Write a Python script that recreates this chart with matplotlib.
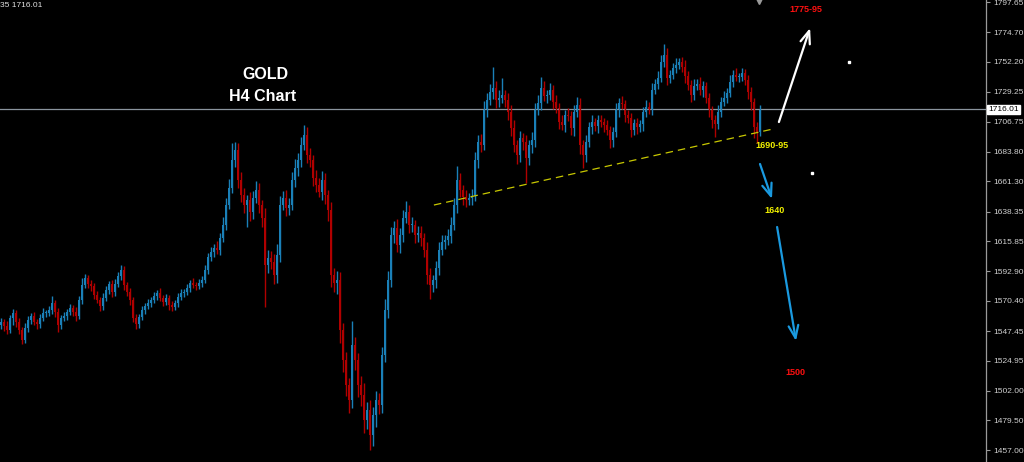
import matplotlib
matplotlib.use("Agg")
import matplotlib.pyplot as plt
import matplotlib.transforms as mtransforms
import numpy as np

# ---------------- data ----------------
closes = [
    1554.3, 1551.3, 1548.3, 1557.4, 1561.2, 1554.3, 1548.3, 1540.7, 1549.8, 1555.9,
    1558.9, 1554.3, 1552.8, 1557.4, 1561.2, 1561.2, 1563.5, 1568.8, 1562.0, 1552.1,
    1557.4, 1558.9, 1562.0, 1565.0, 1562.0, 1558.9, 1571.1, 1582.5, 1587.8, 1583.2,
    1581.7, 1574.9, 1571.1, 1566.5, 1572.6, 1578.7, 1583.2, 1577.2, 1583.2, 1589.3,
    1593.9, 1582.5, 1577.2, 1571.1, 1557.4, 1552.8, 1558.2, 1563.5, 1566.5, 1568.8,
    1571.1, 1574.1, 1576.4, 1572.6, 1569.6, 1572.6, 1567.3, 1565.8, 1568.8, 1573.4,
    1576.4, 1577.2, 1580.2, 1584.0, 1582.5, 1581.7, 1584.0, 1586.3, 1593.9, 1603.8,
    1607.6, 1610.6, 1609.1, 1618.2, 1628.1, 1643.3, 1656.2, 1677.5, 1685.1, 1662.3,
    1650.9, 1643.3, 1647.1, 1638.0, 1648.6, 1654.7, 1643.3, 1633.4, 1597.7, 1603.0,
    1600.0, 1590.1, 1605.3, 1643.3, 1648.6, 1641.0, 1643.3, 1662.3, 1671.5, 1677.5,
    1688.9, 1696.5, 1681.3, 1677.5, 1663.8, 1658.5, 1653.2, 1662.3, 1650.9, 1639.5,
    1590.1, 1584.0, 1586.3, 1548.3, 1525.5, 1506.4, 1495.0, 1536.9, 1525.5, 1506.4,
    1498.8, 1479.8, 1487.4, 1468.4, 1483.6, 1495.0, 1491.2, 1529.3, 1563.5, 1586.3,
    1620.5, 1625.8, 1612.9, 1620.5, 1633.4, 1638.0, 1628.1, 1628.1, 1620.5, 1622.0,
    1618.2, 1609.1, 1590.1, 1582.5, 1586.3, 1595.4, 1609.1, 1615.2, 1616.7, 1619.7,
    1628.1, 1643.3, 1662.3, 1654.7, 1649.4, 1647.1, 1648.6, 1650.2, 1677.5, 1691.2,
    1688.9, 1715.6, 1723.2, 1729.2, 1732.3, 1723.2, 1724.7, 1727.0, 1723.2, 1714.0,
    1701.9, 1688.9, 1681.3, 1694.3, 1691.2, 1679.1, 1688.9, 1692.7, 1715.6, 1720.9,
    1732.3, 1726.2, 1727.0, 1730.8, 1721.6, 1717.1, 1706.4, 1704.1, 1711.8, 1711.0,
    1701.9, 1714.0, 1719.4, 1688.9, 1681.3, 1691.2, 1702.6, 1706.4, 1703.4, 1708.0,
    1706.4, 1704.1, 1700.3, 1692.7, 1698.8, 1715.6, 1720.9, 1720.1, 1711.8, 1709.5,
    1700.3, 1705.7, 1702.6, 1704.9, 1714.0, 1717.8, 1715.6, 1730.8, 1735.3, 1739.9,
    1752.1, 1757.4, 1739.9, 1742.2, 1747.5, 1749.8, 1752.1, 1748.3, 1741.4, 1734.6,
    1727.0, 1733.8, 1735.3, 1730.8, 1733.8, 1724.7, 1715.6, 1708.0, 1704.9, 1714.0,
    1721.6, 1724.7, 1728.5, 1736.8, 1742.2, 1740.6, 1740.6, 1743.7, 1738.4, 1729.2,
    1721.6, 1702.6, 1698.8, 1716.01,
]
first_open = 1552.0

wick_up = [
    3, 2, 4, 2, 3, 2, 3, 2, 4, 3,   2, 3, 2, 3, 4, 2, 3, 5, 2, 3,
    2, 3, 2, 3, 2, 4, 3, 5, 3, 2,   3, 2, 3, 2, 4, 3, 2, 3, 4, 3,
    4, 3, 2, 3, 2, 3, 2, 3, 2, 3,   2, 3, 2, 4, 2, 3, 2, 3, 2, 3,
    3, 2, 3, 2, 4, 2, 3, 3, 4, 3,   4, 3, 5, 4, 6, 5, 7, 13, 6, 5,
    6, 5, 4, 6, 5, 7, 5, 4, 8, 6,   5, 6, 8, 7, 5, 6, 5, 6, 7, 5,
    6, 8, 6, 5, 4, 6, 5, 7, 5, 4,   6, 5, 7, 6, 5, 6, 5, 18, 6, 5,
    7, 9, 6, 8, 6, 7, 5, 6, 8, 7,   6, 5, 7, 5, 6, 8, 5, 6, 4, 5,
    5, 4, 6, 5, 4, 5, 6, 5, 4, 5,   6, 5, 11, 5, 4, 5, 4, 5, 6, 5,
    6, 7, 5, 6, 16, 5, 6, 13, 4, 5,  5, 6, 4, 5, 4, 5, 4, 6, 5, 6,
    8, 5, 4, 5, 4, 5, 4, 5, 4, 5,   4, 5, 6, 5, 4, 5, 4, 5, 3, 4,
    4, 3, 4, 3, 4, 5, 4, 5, 3, 4,   4, 3, 4, 3, 4, 5, 4, 5, 4, 5,
    5, 8, 5, 4, 4, 5, 3, 4, 5, 4,   4, 5, 4, 5, 4, 3, 4, 3, 4, 5,
    4, 5, 4, 5, 4, 5, 3, 4, 3, 4,   4, 3, 4, 3,
]
wick_dn = [
    3, 4, 3, 2, 5, 4, 3, 3, 2, 3,   3, 2, 4, 3, 2, 3, 2, 3, 4, 5,
    3, 2, 3, 2, 3, 4, 2, 3, 2, 3,   4, 3, 2, 4, 3, 2, 3, 4, 3, 2,
    3, 4, 3, 4, 3, 4, 3, 2, 3, 2,   3, 2, 3, 2, 3, 2, 4, 3, 2, 3,
    2, 3, 2, 3, 2, 3, 2, 3, 2, 3,   3, 4, 3, 4, 3, 4, 3, 4, 5, 6,
    5, 6, 17, 7, 5, 4, 6, 7, 32, 6,  5, 7, 6, 5, 4, 6, 5, 4, 5, 6,
    5, 4, 6, 5, 6, 5, 4, 6, 7, 8,   9, 7, 8, 10, 9, 8, 10, 6, 8, 9,
    8, 10, 7, 11, 8, 9, 7, 6, 5, 6,  5, 6, 5, 6, 5, 4, 6, 5, 6, 5,
    6, 5, 7, 11, 5, 6, 5, 4, 5, 4,  5, 4, 6, 5, 6, 5, 4, 5, 4, 6,
    5, 4, 5, 4, 5, 6, 5, 4, 5, 6,   6, 5, 7, 5, 6, 19, 5, 6, 5, 4,
    5, 4, 5, 4, 5, 4, 5, 4, 5, 4,   5, 6, 4, 7, 10, 5, 4, 5, 4, 5,
    4, 5, 4, 6, 5, 4, 5, 4, 5, 4,   5, 4, 5, 4, 5, 4, 3, 4, 3, 4,
    3, 4, 5, 4, 3, 4, 3, 4, 5, 4,   5, 4, 3, 4, 5, 4, 5, 6, 10, 4,
    4, 3, 4, 3, 4, 3, 4, 3, 4, 5,   6, 8, 8, 3,
]

ytick_values = [1797.65, 1774.70, 1752.20, 1729.25, 1706.75, 1683.80, 1661.30,
                1638.35, 1615.85, 1592.90, 1570.40, 1547.45, 1524.95, 1502.00,
                1479.50, 1457.00]
ytick_labels = ["1797.65", "1774.70", "1752.20", "1729.25", "1706.75", "1683.80",
                "1661.30", "1638.35", "1615.85", "1592.90", "1570.40", "1547.45",
                "1524.95", "1502.00", "1479.50", "1457.00"]
last_price = 1716.01
header_text = "35 1716.01"

# annotations (bar index, price)
trend_start = (144.3, 1643.3)
trend_end = (257.3, 1701.1)
up_arrow = ((259.3, 1706.4), (269.7, 1777.9))
down_arrow1 = ((253.0, 1674.5), (257.0, 1647.9))
down_arrow2 = ((258.7, 1626.6), (265.0, 1539.9))
labels = [
    ("1775-95", 268.3, 1791.6, "#ff1010"),
    ("1690-95", 257.0, 1688.2, "#f0f000"),
    ("1640", 258.0, 1639.5, "#f0f000"),
    ("1500", 264.7, 1515.6, "#ff1010"),
]
dots = [(282.7, 1752.0), (270.3, 1667.6)]
marker_top = (252.7, 1798.8)

# ---------------- drawing ----------------
BULL = "#1a80b8"
BEAR = "#b00000"

fig = plt.figure(figsize=(10.24, 4.62), dpi=100, facecolor="black")
ax = fig.add_axes([0, 0, 986 / 1024, 1])
ax.set_facecolor("black")

closes_a = np.array(closes)
opens_a = np.concatenate([[first_open], closes_a[:-1]])
highs_a = np.maximum(opens_a, closes_a) + np.array(wick_up)
lows_a = np.minimum(opens_a, closes_a) - np.array(wick_dn)
idx = np.arange(len(closes_a))
colors = [BULL if c >= o else BEAR for o, c in zip(opens_a, closes_a)]

ax.vlines(idx, lows_a, highs_a, colors=colors, linewidth=1.0)
bottoms = np.minimum(opens_a, closes_a)
heights = np.maximum(np.abs(closes_a - opens_a), 0.6)
ax.bar(idx, heights, bottom=bottoms, width=0.78, color=colors, linewidth=0)

# last price line
ax.axhline(last_price, color="#8a949e", linewidth=0.9, zorder=1)

# trend line
ax.plot([trend_start[0], trend_end[0]], [trend_start[1], trend_end[1]],
        color="#c8c800", linewidth=0.9, linestyle=(0, (6, 4)))

arrow_kw = dict(arrowstyle="->,head_length=0.9,head_width=0.35", linewidth=1.6,
                shrinkA=0, shrinkB=0)
ax.annotate("", xy=up_arrow[1], xytext=up_arrow[0],
            arrowprops=dict(color="white", **arrow_kw))
ax.annotate("", xy=down_arrow1[1], xytext=down_arrow1[0],
            arrowprops=dict(color="#1a9ae0", **arrow_kw))
ax.annotate("", xy=down_arrow2[1], xytext=down_arrow2[0],
            arrowprops=dict(color="#1a9ae0", **arrow_kw))

for txt, xx, yy, col in labels:
    ax.text(xx, yy, txt, color=col, fontsize=6.5, fontweight="bold",
            family="Liberation Sans", ha="center", va="center")

ax.text(88.0, 1742.2, "GOLD", color="white", fontsize=11.5, fontweight="bold",
        family="Liberation Sans", ha="center", va="center")
ax.text(87.3, 1726.2, "H4 Chart", color="white", fontsize=11.5, fontweight="bold",
        family="Liberation Sans", ha="center", va="center")

for dx, dy in dots:
    ax.plot(dx, dy, marker="s", markersize=2, color="white", linestyle="none")
ax.plot(marker_top[0], marker_top[1], marker="v", markersize=5, color="#9a9a9a",
        linestyle="none", clip_on=False)

ax.set_xlim(-1 / 3, 985 / 3)
ax.set_ylim(1447.9, 1799.2)

for s in ["top", "left", "bottom"]:
    ax.spines[s].set_visible(False)
ax.spines["right"].set_color("#9a9a9a")
ax.spines["right"].set_linewidth(0.9)
ax.set_xticks([])
ax.yaxis.tick_right()
ax.set_yticks(ytick_values)
ax.set_yticklabels(ytick_labels)
ax.tick_params(axis="y", colors="#9a9a9a", labelcolor="#d0d0d0", length=3,
               width=0.8, pad=2, labelsize=6)
for lab in ax.get_yticklabels():
    lab.set_family("Liberation Sans")

trans = mtransforms.blended_transform_factory(ax.transAxes, ax.transData)
ax.text(1.002, last_price, "1716.01", transform=trans, color="black",
        fontsize=6, family="Liberation Sans", ha="left", va="center",
        bbox=dict(boxstyle="square,pad=0.15", facecolor="white", edgecolor="white"))

fig.text(0.0, 0.988, header_text, color="#e0e0e0", fontsize=6,
         family="Liberation Sans", ha="left", va="center")

fig.savefig("out.png", dpi=100, facecolor="black")
